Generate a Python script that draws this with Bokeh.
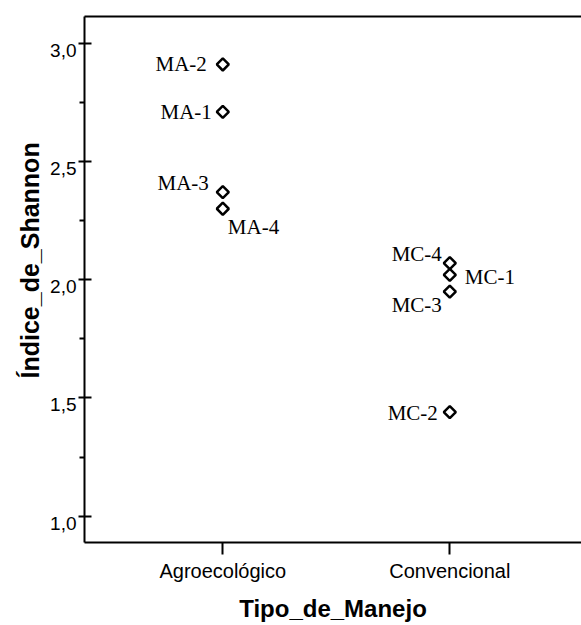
import math
from bokeh.plotting import figure
from bokeh.models import (Range1d, FixedTicker, LinearAxis, Title, ColumnDataSource,
                          CustomJSTickFormatter)
from bokeh.core.properties import value
from bokeh.embed import file_html
from bokeh.resources import INLINE

# ---------------- data ----------------
categories = ["Agroecológico", "Convencional"]
point_labels = ["MA-1", "MA-2", "MA-3", "MA-4", "MC-1", "MC-2", "MC-3", "MC-4"]
point_groups = ["Agroecológico", "Agroecológico", "Agroecológico", "Agroecológico",
                "Convencional", "Convencional", "Convencional", "Convencional"]
shannon = [2.71, 2.91, 2.37, 2.30, 2.02, 1.44, 1.95, 2.07]
y_ticks = [1.0, 1.5, 2.0, 2.5, 3.0]
y_minor_ticks = [1.25, 1.75, 2.25, 2.75]
x_title = "Tipo_de_Manejo"
y_title = "Índice_de_Shannon"

# ---------------- layout (label placement, px) ----------------
label_layout = {
    "MA-1": ("right", -11, 0),
    "MA-2": ("right", -16, 0),
    "MA-3": ("right", -14, -9),
    "MA-4": ("left", 5, 18),
    "MC-1": ("left", 15, 2),
    "MC-2": ("right", -12, 1),
    "MC-3": ("right", -8, 13),
    "MC-4": ("right", -8, -9),
}

x_pos = [categories.index(g) + 1 for g in point_groups]
aligns = [label_layout[l][0] for l in point_labels]
dxs = [label_layout[l][1] for l in point_labels]
dys = [label_layout[l][2] for l in point_labels]

src = ColumnDataSource(dict(x=x_pos, y=shannon, lab=point_labels,
                            align=aligns, dx=dxs, dy=dys))

W, H = 581, 625
FL, FT, FB = 84, 16, 542          # frame left / top / bottom (px)
px_x = 227.0                       # pixels per category step
px_y = 236.5                       # pixels per unit of y
x_start = 1 - (222.3 - FL) / px_x
x_end = x_start + (W - FL) / px_x
y_start = 1.0 - (FB - 515.7) / px_y
y_end = 3.0 + (42.7 - FT) / px_y

p = figure(width=W, height=H, output_backend="svg", toolbar_location=None,
           x_range=Range1d(x_start, x_end), y_range=Range1d(y_start, y_end),
           min_border_left=FL, min_border_right=0, min_border_top=FT,
           min_border_bottom=H - FB)
p.grid.visible = False
p.outline_line_color = None
p.background_fill_color = "white"
p.border_fill_color = "white"

# x axis
xa = p.xaxis[0]
xa.ticker = FixedTicker(ticks=[i + 1 for i in range(len(categories))], minor_ticks=[])
xa.major_label_overrides = {i + 1: c for i, c in enumerate(categories)}
xa.major_tick_out = 12
xa.major_tick_in = 0
xa.minor_tick_out = 0
xa.minor_tick_in = 0
xa.major_label_standoff = 5
xa.axis_line_width = 2
xa.major_tick_line_width = 2
xa.axis_line_color = "black"
xa.major_tick_line_color = "black"
xa.major_label_text_font = "Liberation Sans"
xa.major_label_text_font_size = "20px"
xa.major_label_text_color = "black"
xa.axis_label = x_title
xa.axis_label_standoff = 10
xa.axis_label_text_font = "Liberation Sans"
xa.axis_label_text_font_style = "bold"
xa.axis_label_text_font_size = "24px"
xa.axis_label_text_color = "black"

# y axis
ya = p.yaxis[0]
ya.ticker = FixedTicker(ticks=y_ticks, minor_ticks=y_minor_ticks)
ya.formatter = CustomJSTickFormatter(code="return '\\n' + tick.toFixed(1).replace('.', ',');")
ya.major_tick_out = 6
ya.major_tick_in = 7
ya.minor_tick_out = 5
ya.minor_tick_in = 0
ya.major_label_standoff = 2
ya.axis_line_width = 2
ya.major_tick_line_width = 2
ya.minor_tick_line_width = 2
ya.axis_line_color = "black"
ya.major_tick_line_color = "black"
ya.minor_tick_line_color = "black"
ya.major_label_text_font = "Liberation Sans"
ya.major_label_text_font_size = "19px"
ya.major_label_text_line_height = 0.65
ya.major_label_text_color = "black"

# y title as a side title (offset measured from the frame bottom)
p.add_layout(Title(text=y_title, align="left", offset=FB - 378, standoff=8,
                   text_font="Liberation Sans", text_font_style="bold",
                   text_font_size="25px", text_color="black"), "left")

# top border line
top = LinearAxis(ticker=FixedTicker(ticks=[], minor_ticks=[]), major_label_text_font_size="0px",
                 major_tick_out=0, major_tick_in=0, minor_tick_out=0, minor_tick_in=0,
                 major_label_standoff=0, axis_line_width=2, axis_line_color="black")
p.add_layout(top, "above")

# points
p.scatter("x", "y", source=src, marker="square", angle=math.pi / 4, size=8.5,
          fill_color="white", line_color="black", line_width=2.5)

# point labels
p.text("x", "y", text="lab", source=src, text_align="align", x_offset="dx", y_offset="dy",
       text_baseline="middle", text_font=value("Liberation Serif"), text_font_size="21px",
       text_color="black")

open("out.html", "w").write(file_html(p, INLINE))
